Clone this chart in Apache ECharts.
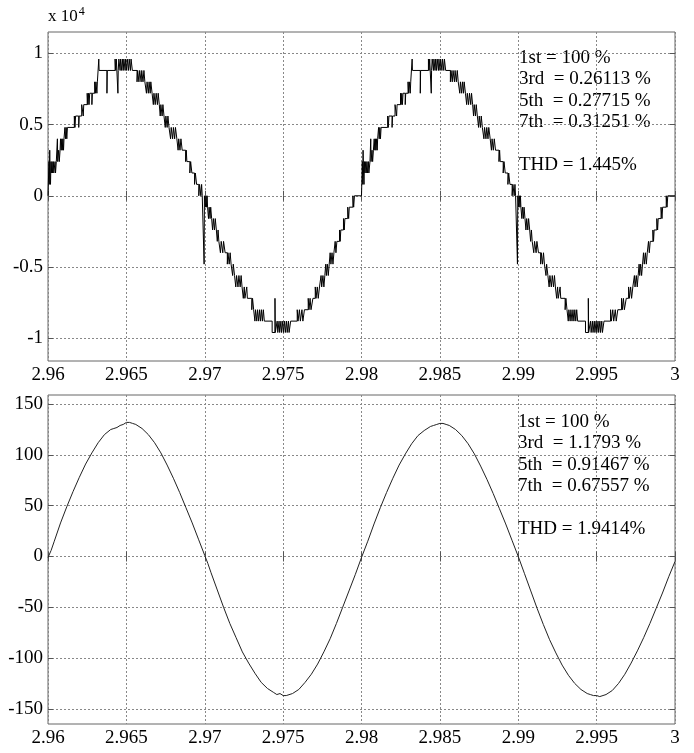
<!DOCTYPE html>
<html>
<head>
<meta charset="utf-8">
<script src="https://cdn.jsdelivr.net/npm/echarts@6/dist/echarts.min.js"></script>
<style>
  html, body { margin: 0; padding: 0; background: #fff; }
  #chart { width: 694px; height: 753px; }
</style>
</head>
<body>
<div id="chart"></div>
<script>
// Time axis ticks (s)
const timeTicks = [2.96, 2.965, 2.97, 2.975, 2.98, 2.985, 2.99, 2.995, 3.0];
// Voltage ticks (V) and current ticks (A)
const voltageTicks = [-10000, -5000, 0, 5000, 10000];
const currentTicks = [-150, -100, -50, 0, 50, 100, 150];

// Multilevel inverter output voltage, first period [t (s), V]
const voltageCycle1 = [
  [2.96000, 0], [2.96006, 2400], [2.96008, 800], [2.96011, 3200], [2.96013, 1600], [2.96016, 800],
  [2.96019, 2400], [2.96021, 1600], [2.96026, 2400], [2.96029, 1600], [2.96034, 2400], [2.96037, 1600],
  [2.96045, 2400], [2.96048, 1600], [2.96053, 2400], [2.96060, 4000], [2.96062, 2400], [2.96068, 3200],
  [2.96072, 2400], [2.96077, 3200], [2.96080, 4000], [2.96084, 3200], [2.96088, 4000], [2.96091, 3200],
  [2.96095, 4000], [2.96099, 3200], [2.96102, 4000], [2.96108, 4800], [2.96112, 4000], [2.96116, 4800],
  [2.96120, 4000], [2.96124, 4800], [2.96168, 5600], [2.96172, 4800], [2.96176, 5600], [2.96196, 4800],
  [2.96199, 5600], [2.96215, 6400], [2.96225, 5600], [2.96228, 6400], [2.96250, 7200], [2.96254, 6400],
  [2.96258, 7200], [2.96262, 6400], [2.96266, 7200], [2.96280, 6400], [2.96283, 7200], [2.96298, 8000],
  [2.96302, 7200], [2.96306, 8000], [2.96312, 7200], [2.96315, 8000], [2.96324, 9600], [2.96326, 8800],
  [2.96376, 7200], [2.96378, 8800], [2.96428, 9600], [2.96432, 8800], [2.96436, 9600], [2.96446, 7200],
  [2.96448, 8800], [2.96452, 9600], [2.96460, 8800], [2.96463, 9600], [2.96470, 8800], [2.96474, 9600],
  [2.96480, 8800], [2.96484, 9600], [2.96492, 8800], [2.96495, 9600], [2.96502, 8800], [2.96506, 9600],
  [2.96514, 8800], [2.96518, 9600], [2.96526, 8800], [2.96530, 9600], [2.96538, 8800],
  [2.96568, 8000], [2.96572, 8800], [2.96580, 8000], [2.96585, 8800], [2.96594, 8000], [2.96598, 8800],
  [2.96606, 8000], [2.96612, 8800], [2.96618, 8000], [2.96628, 7200], [2.96632, 8000], [2.96640, 7200],
  [2.96645, 8000], [2.96652, 7200], [2.96656, 8000], [2.96664, 7200], [2.96672, 6400], [2.96676, 7200],
  [2.96684, 6400], [2.96690, 7200], [2.96698, 6400], [2.96703, 7200], [2.96710, 6400], [2.96716, 5600],
  [2.96720, 6400], [2.96728, 5600], [2.96733, 6400], [2.96740, 5600], [2.96748, 4800], [2.96752, 5600],
  [2.96760, 4800], [2.96765, 5600], [2.96772, 4800], [2.96782, 4000], [2.96786, 4800], [2.96795, 4000],
  [2.96800, 4800], [2.96808, 4000], [2.96813, 4800], [2.96822, 4000], [2.96830, 3200], [2.96834, 4000],
  [2.96842, 3200], [2.96848, 4000], [2.96856, 3200], [2.96878, 2400], [2.96882, 3200], [2.96886, 2400],
  [2.96905, 1600], [2.96910, 2400], [2.96918, 1600], [2.96935, 800], [2.96940, 1600], [2.96948, 800],
  [2.96962, 0], [2.96967, 800], [2.96975, 0], [2.96980, 800], [2.96984, 0], [2.96996, -4800], [2.96998, 0],
  [2.97004, -800], [2.97008, 0], [2.97012, -800], [2.97015, 0], [2.97018, -800], [2.97024, -1600],
  [2.97028, -800], [2.97034, -1600], [2.97038, -800], [2.97044, -1600], [2.97050, -2400], [2.97055, -1600],
  [2.97062, -2400], [2.97067, -1600], [2.97074, -2400], [2.97080, -3200], [2.97085, -2400], [2.97090, -3200],
  [2.97100, -4000], [2.97105, -3200], [2.97115, -4000], [2.97120, -3200], [2.97130, -4000], [2.97144, -4800],
  [2.97148, -4000], [2.97156, -4800], [2.97162, -4000], [2.97168, -4800], [2.97178, -5600], [2.97182, -4800],
  [2.97190, -5600], [2.97198, -6400], [2.97203, -5600], [2.97212, -6400], [2.97218, -5600], [2.97226, -6400],
  [2.97232, -5600], [2.97238, -6400], [2.97246, -7200], [2.97252, -6400], [2.97256, -7200], [2.97268, -6400],
  [2.97272, -7200], [2.97300, -8000], [2.97305, -7200], [2.97312, -8000], [2.97320, -8800], [2.97324, -8000],
  [2.97332, -8800], [2.97337, -8000], [2.97344, -8800], [2.97350, -8000], [2.97356, -8800], [2.97362, -8000],
  [2.97368, -8800], [2.97374, -8000], [2.97380, -8800], [2.97430, -9600], [2.97448, -7200], [2.97450, -9600],
  [2.97462, -8800], [2.97466, -9600], [2.97474, -8800], [2.97478, -9600], [2.97486, -8800], [2.97490, -9600],
  [2.97498, -8800], [2.97502, -9600], [2.97510, -8800], [2.97514, -9600], [2.97522, -8800], [2.97526, -9600],
  [2.97534, -8800], [2.97538, -9600], [2.97548, -8800], [2.97590, -8000], [2.97595, -8800], [2.97604, -8000],
  [2.97610, -8800], [2.97620, -8000], [2.97626, -8800], [2.97636, -8000], [2.97660, -7200], [2.97665, -8000],
  [2.97672, -7200], [2.97678, -8000], [2.97690, -7200], [2.97705, -6400], [2.97710, -7200], [2.97718, -6400],
  [2.97724, -7200], [2.97732, -6400], [2.97742, -5600], [2.97746, -6400], [2.97754, -5600], [2.97760, -6400],
  [2.97766, -5600], [2.97772, -4800], [2.97776, -5600], [2.97782, -4800], [2.97788, -5600], [2.97794, -4800],
  [2.97800, -4000], [2.97805, -4800], [2.97812, -4000], [2.97818, -4800], [2.97824, -4000], [2.97832, -3200],
  [2.97837, -4000], [2.97843, -3200], [2.97860, -2400], [2.97864, -3200], [2.97868, -2400], [2.97885, -1600],
  [2.97890, -2400], [2.97894, -1600], [2.97912, -800], [2.97918, -1600], [2.97922, -800], [2.97945, 0],
  [2.97950, -800], [2.97955, 0]
];

// Second period [t (s), V]
const voltageCycle2 = [
  [2.98000, 0], [2.98005, 2400], [2.98008, 800], [2.98010, 3200], [2.98013, 1600], [2.98016, 800],
  [2.98019, 2400], [2.98022, 1600], [2.98027, 2400], [2.98030, 1600], [2.98035, 2400], [2.98038, 1600],
  [2.98044, 2400], [2.98047, 1600], [2.98054, 2400], [2.98059, 4000], [2.98061, 2400], [2.98067, 3200],
  [2.98071, 2400], [2.98076, 3200], [2.98081, 4000], [2.98085, 3200], [2.98089, 4000], [2.98092, 3200],
  [2.98096, 4000], [2.98100, 3200], [2.98103, 4000], [2.98109, 4800], [2.98113, 4000], [2.98117, 4800],
  [2.98121, 4000], [2.98125, 4800], [2.98167, 5600], [2.98171, 4800], [2.98175, 5600], [2.98195, 4800],
  [2.98198, 5600], [2.98214, 6400], [2.98224, 5600], [2.98227, 6400], [2.98249, 7200], [2.98253, 6400],
  [2.98257, 7200], [2.98261, 6400], [2.98265, 7200], [2.98279, 6400], [2.98282, 7200], [2.98297, 8000],
  [2.98301, 7200], [2.98305, 8000], [2.98311, 7200], [2.98314, 8000], [2.98323, 9600], [2.98325, 8800],
  [2.98375, 7200], [2.98377, 8800], [2.98427, 9600], [2.98431, 8800], [2.98435, 9600], [2.98445, 7200],
  [2.98447, 8800], [2.98451, 9600], [2.98459, 8800], [2.98462, 9600], [2.98469, 8800], [2.98473, 9600],
  [2.98479, 8800], [2.98483, 9600], [2.98491, 8800], [2.98494, 9600], [2.98501, 8800], [2.98505, 9600],
  [2.98513, 8800], [2.98517, 9600], [2.98525, 8800], [2.98529, 9600], [2.98537, 8800],
  [2.98567, 8000], [2.98571, 8800], [2.98579, 8000], [2.98584, 8800], [2.98593, 8000], [2.98597, 8800],
  [2.98605, 8000], [2.98611, 8800], [2.98617, 8000], [2.98627, 7200], [2.98631, 8000], [2.98639, 7200],
  [2.98644, 8000], [2.98651, 7200], [2.98655, 8000], [2.98663, 7200], [2.98671, 6400], [2.98675, 7200],
  [2.98683, 6400], [2.98689, 7200], [2.98697, 6400], [2.98702, 7200], [2.98709, 6400], [2.98715, 5600],
  [2.98719, 6400], [2.98727, 5600], [2.98732, 6400], [2.98739, 5600], [2.98747, 4800], [2.98751, 5600],
  [2.98759, 4800], [2.98764, 5600], [2.98771, 4800], [2.98781, 4000], [2.98785, 4800], [2.98794, 4000],
  [2.98799, 4800], [2.98807, 4000], [2.98812, 4800], [2.98821, 4000], [2.98829, 3200], [2.98833, 4000],
  [2.98841, 3200], [2.98847, 4000], [2.98855, 3200], [2.98877, 2400], [2.98881, 3200], [2.98885, 2400],
  [2.98904, 1600], [2.98909, 2400], [2.98917, 1600], [2.98934, 800], [2.98939, 1600], [2.98947, 800],
  [2.98961, 0], [2.98966, 800], [2.98974, 0], [2.98979, 800], [2.98983, 0], [2.98995, -4800], [2.98997, 0],
  [2.99003, -800], [2.99007, 0], [2.99011, -800], [2.99014, 0], [2.99017, -800], [2.99023, -1600],
  [2.99027, -800], [2.99033, -1600], [2.99037, -800], [2.99043, -1600], [2.99049, -2400], [2.99054, -1600],
  [2.99061, -2400], [2.99066, -1600], [2.99073, -2400], [2.99079, -3200], [2.99084, -2400], [2.99089, -3200],
  [2.99099, -4000], [2.99104, -3200], [2.99114, -4000], [2.99119, -3200], [2.99129, -4000], [2.99143, -4800],
  [2.99147, -4000], [2.99155, -4800], [2.99161, -4000], [2.99167, -4800], [2.99177, -5600], [2.99181, -4800],
  [2.99189, -5600], [2.99197, -6400], [2.99202, -5600], [2.99211, -6400], [2.99217, -5600], [2.99225, -6400],
  [2.99231, -5600], [2.99237, -6400], [2.99245, -7200], [2.99251, -6400], [2.99255, -7200], [2.99267, -6400],
  [2.99271, -7200], [2.99299, -8000], [2.99304, -7200], [2.99311, -8000], [2.99319, -8800], [2.99323, -8000],
  [2.99331, -8800], [2.99336, -8000], [2.99343, -8800], [2.99349, -8000], [2.99355, -8800], [2.99361, -8000],
  [2.99367, -8800], [2.99373, -8000], [2.99379, -8800], [2.99429, -9600], [2.99447, -7200], [2.99449, -9600],
  [2.99461, -8800], [2.99465, -9600], [2.99473, -8800], [2.99477, -9600], [2.99485, -8800], [2.99489, -9600],
  [2.99497, -8800], [2.99501, -9600], [2.99509, -8800], [2.99513, -9600], [2.99521, -8800], [2.99525, -9600],
  [2.99533, -8800], [2.99537, -9600], [2.99547, -8800], [2.99589, -8000], [2.99594, -8800], [2.99603, -8000],
  [2.99609, -8800], [2.99619, -8000], [2.99625, -8800], [2.99635, -8000], [2.99659, -7200], [2.99664, -8000],
  [2.99671, -7200], [2.99677, -8000], [2.99689, -7200], [2.99704, -6400], [2.99709, -7200], [2.99717, -6400],
  [2.99723, -7200], [2.99731, -6400], [2.99741, -5600], [2.99745, -6400], [2.99753, -5600], [2.99759, -6400],
  [2.99765, -5600], [2.99771, -4800], [2.99775, -5600], [2.99781, -4800], [2.99787, -5600], [2.99793, -4800],
  [2.99799, -4000], [2.99804, -4800], [2.99811, -4000], [2.99817, -4800], [2.99823, -4000], [2.99831, -3200],
  [2.99836, -4000], [2.99842, -3200], [2.99859, -2400], [2.99863, -3200], [2.99867, -2400], [2.99884, -1600],
  [2.99889, -2400], [2.99893, -1600], [2.99911, -800], [2.99917, -1600], [2.99921, -800], [2.99944, 0],
  [2.99949, -800], [2.99954, 0], [3.00000, 0]
];

// Load current [t (s), A]
const currentWave = [
  [2.9600, -1], [2.9602, 6], [2.9604, 15], [2.9608, 33], [2.9612, 49], [2.9616, 64], [2.9620, 78],
  [2.9624, 91], [2.9628, 102], [2.9632, 112], [2.9636, 120], [2.9640, 125], [2.9642, 126], [2.9644, 127],
  [2.9646, 129], [2.9648, 130], [2.9650, 132], [2.9652, 132], [2.9654, 131], [2.9656, 130], [2.9660, 126],
  [2.9664, 120], [2.9668, 112], [2.9672, 102], [2.9676, 90], [2.9680, 77], [2.9684, 63], [2.9688, 48],
  [2.9692, 33], [2.9696, 17], [2.9700, 1], [2.9702, -7], [2.9704, -16], [2.9708, -33], [2.9712, -50],
  [2.9716, -66], [2.9720, -80], [2.9724, -94], [2.9728, -105], [2.9732, -115], [2.9736, -124],
  [2.9740, -130], [2.9744, -134], [2.9746, -136], [2.9748, -135], [2.9750, -137], [2.9752, -137],
  [2.9756, -135], [2.9760, -131], [2.9764, -124], [2.9768, -116], [2.9772, -106], [2.9776, -94],
  [2.9780, -81], [2.9784, -66], [2.9788, -50], [2.9792, -34], [2.9796, -18], [2.9800, -1],
  [2.9804, 15], [2.9808, 32], [2.9812, 48], [2.9816, 63], [2.9820, 77], [2.9824, 90], [2.9828, 101],
  [2.9832, 111], [2.9836, 119], [2.9840, 124], [2.9844, 128], [2.9846, 129], [2.9848, 130], [2.9850, 131],
  [2.9852, 131], [2.9854, 130], [2.9856, 129], [2.9860, 125], [2.9864, 119], [2.9868, 111], [2.9872, 101],
  [2.9876, 89], [2.9880, 76], [2.9884, 62], [2.9888, 47], [2.9892, 32], [2.9896, 16], [2.9900, 0],
  [2.9904, -17], [2.9908, -34], [2.9912, -51], [2.9916, -67], [2.9920, -82], [2.9924, -95], [2.9928, -107],
  [2.9932, -117], [2.9936, -125], [2.9940, -131], [2.9944, -135], [2.9946, -136], [2.9948, -137],
  [2.9950, -137], [2.9952, -138], [2.9956, -136], [2.9960, -132], [2.9964, -125], [2.9968, -116],
  [2.9972, -105], [2.9976, -93], [2.9980, -80], [2.9984, -66], [2.9988, -51], [2.9992, -36],
  [2.9996, -20], [3.0000, -5]
];

const voltageWave = voltageCycle1.concat(voltageCycle2);

const FONT = 'Liberation Serif';
const gridLine = { show: true, lineStyle: { color: '#888', type: [2, 2], width: 1 } };

function fmtTime(v) { return String(Number(v.toFixed(3))); }

function timeAxis(gridIndex, position, withLabels) {
  return {
    type: 'value', gridIndex, position,
    min: 2.96, max: 3.0, interval: 0.005,
    axisLine: { show: false },
    axisTick: { show: true, inside: true, length: 5, lineStyle: { color: '#555' } },
    axisLabel: { show: withLabels, margin: 5, color: '#000', fontFamily: FONT, fontSize: 19, formatter: fmtTime },
    splitLine: withLabels ? gridLine : { show: false }
  };
}

function valueAxis(gridIndex, position, min, max, ticks, withLabels, fmt) {
  return {
    type: 'value', gridIndex, position, min, max,
    axisLine: { show: false },
    axisTick: { show: true, inside: true, length: 5, customValues: ticks, lineStyle: { color: '#555' } },
    axisLabel: { show: withLabels, customValues: ticks, margin: 5, color: '#000', fontFamily: FONT, fontSize: 19, formatter: fmt },
    splitLine: withLabels ? gridLine : { show: false }
  };
}

const chart = echarts.init(document.getElementById('chart'), null, { renderer: 'canvas' });

chart.setOption({
  animation: false,
  backgroundColor: '#fff',
  grid: [
    { left: 48, top: 32, width: 627, height: 329, show: true, borderColor: '#666', borderWidth: 1 },
    { left: 48, top: 395, width: 627, height: 329, show: true, borderColor: '#666', borderWidth: 1 }
  ],
  xAxis: [
    timeAxis(0, 'bottom', true),
    timeAxis(0, 'top', false),
    timeAxis(1, 'bottom', true),
    timeAxis(1, 'top', false)
  ],
  yAxis: [
    valueAxis(0, 'left', -11600, 11500, voltageTicks, true, v => String(v / 10000)),
    valueAxis(0, 'right', -11600, 11500, voltageTicks, false),
    valueAxis(1, 'left', -165, 159, currentTicks, true, v => String(v)),
    valueAxis(1, 'right', -165, 159, currentTicks, false)
  ],
  graphic: [
    {
      type: 'text', left: 48, top: 6,
      style: {
        text: 'x 10{sup|4}',
        font: '17px "Liberation Serif"', fill: '#000',
        rich: { sup: { font: '12px "Liberation Serif"', fill: '#000', verticalAlign: 'top', padding: [0, 0, 10, 1] } }
      }
    },
    {
      type: 'text', left: 519, top: 47,
      style: {
        text: '1st = 100 %\n3rd  = 0.26113 %\n5th  = 0.27715 %\n7th  = 0.31251 %\n\nTHD = 1.445%',
        font: '19px "Liberation Serif"', fill: '#000', lineHeight: 21.5
      }
    },
    {
      type: 'text', left: 518, top: 411,
      style: {
        text: '1st = 100 %\n3rd  = 1.1793 %\n5th  = 0.91467 %\n7th  = 0.67557 %\n\nTHD = 1.9414%',
        font: '19px "Liberation Serif"', fill: '#000', lineHeight: 21.5
      }
    }
  ],
  series: [
    {
      type: 'line', xAxisIndex: 0, yAxisIndex: 0, step: 'end',
      data: voltageWave, showSymbol: false, clip: true,
      lineStyle: { color: '#000', width: 1 }
    },
    {
      type: 'line', xAxisIndex: 2, yAxisIndex: 2,
      data: currentWave, showSymbol: false, clip: true,
      lineStyle: { color: '#222', width: 1 }
    }
  ]
});
</script>
</body>
</html>
